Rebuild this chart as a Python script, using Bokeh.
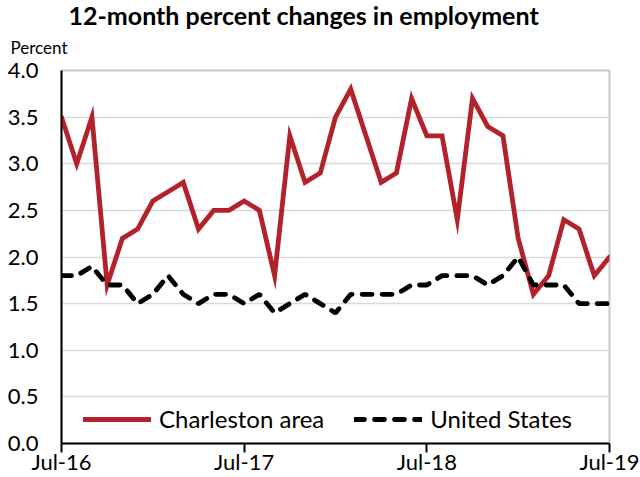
from bokeh.plotting import figure
from bokeh.models import Title, FixedTicker, PrintfTickFormatter, Range1d
from bokeh.embed import file_html
from bokeh.resources import INLINE

months = ["Jul-16", "Aug-16", "Sep-16", "Oct-16", "Nov-16", "Dec-16",
          "Jan-17", "Feb-17", "Mar-17", "Apr-17", "May-17", "Jun-17",
          "Jul-17", "Aug-17", "Sep-17", "Oct-17", "Nov-17", "Dec-17",
          "Jan-18", "Feb-18", "Mar-18", "Apr-18", "May-18", "Jun-18",
          "Jul-18", "Aug-18", "Sep-18", "Oct-18", "Nov-18", "Dec-18",
          "Jan-19", "Feb-19", "Mar-19", "Apr-19", "May-19", "Jun-19",
          "Jul-19"]

charleston = [3.5, 3.0, 3.5, 1.7, 2.2, 2.3, 2.6, 2.7, 2.8, 2.3, 2.5, 2.5,
              2.6, 2.5, 1.8, 3.3, 2.8, 2.9, 3.5, 3.8, 3.3, 2.8, 2.9, 3.7,
              3.3, 3.3, 2.4, 3.7, 3.4, 3.3, 2.2, 1.6, 1.8, 2.4, 2.3, 1.8,
              2.0]

united_states = [1.8, 1.8, 1.9, 1.7, 1.7, 1.5, 1.6, 1.8, 1.6, 1.5, 1.6, 1.6,
                 1.5, 1.6, 1.4, 1.5, 1.6, 1.5, 1.4, 1.6, 1.6, 1.6, 1.6, 1.7,
                 1.7, 1.8, 1.8, 1.8, 1.7, 1.8, 2.0, 1.7, 1.7, 1.7, 1.5, 1.5,
                 1.5]

tick_labels = ["Jul-16", "Jul-17", "Jul-18", "Jul-19"]
y_ticks = [0.0, 0.5, 1.0, 1.5, 2.0, 2.5, 3.0, 3.5, 4.0]

x = list(range(len(months)))
tick_pos = [months.index(t) for t in tick_labels]

FONT = "Lato"

p = figure(width=640, height=477, title=None,
           output_backend="svg", toolbar_location=None,
           x_range=Range1d(0, len(months) - 1), y_range=Range1d(0, 4),
           min_border_left=61, min_border_right=31, min_border_top=70,
           min_border_bottom=34)

p.background_fill_color = "white"
p.border_fill_color = "white"
p.outline_line_color = "#C8C8C8"
p.outline_line_width = 2

p.xgrid.grid_line_color = None
p.ygrid.grid_line_color = "#D9D9D9"
p.ygrid.grid_line_width = 1.5

p.yaxis.ticker = FixedTicker(ticks=y_ticks)
p.yaxis.formatter = PrintfTickFormatter(format="%.1f")
p.yaxis.major_tick_line_color = None
p.yaxis.minor_tick_line_color = None
p.yaxis.major_tick_out = 0
p.yaxis.major_tick_in = 0
p.yaxis.major_label_standoff = 23
p.yaxis.axis_line_color = "black"
p.yaxis.axis_line_width = 2

p.xaxis.ticker = FixedTicker(ticks=tick_pos)
p.xaxis.major_label_overrides = {pos: lab for pos, lab in zip(tick_pos, tick_labels)}
p.xaxis.minor_tick_line_color = None
p.xaxis.major_tick_out = 9
p.xaxis.major_tick_in = 0
p.xaxis.major_tick_line_width = 2
p.xaxis.major_tick_line_color = "black"
p.xaxis.major_label_standoff = -5
p.xaxis.axis_line_color = "black"
p.xaxis.axis_line_width = 2

for ax in (p.xaxis, p.yaxis):
    ax.major_label_text_font = FONT
    ax.major_label_text_font_size = "22px"
    ax.major_label_text_color = "black"

p.line(x, charleston, line_color="#B3222A", line_width=4.8,
       line_join="miter", line_cap="round", legend_label="Charleston area")
p.line(x, united_states, line_color="black", line_width=4.8,
       line_dash="10 10", line_cap="round", legend_label="United States")

leg = p.legend[0]
leg.orientation = "horizontal"
leg.location = (22, 10)
leg.padding = 0
leg.margin = 0
leg.spacing = 30
leg.glyph_width = 68
leg.label_standoff = 8
leg.label_text_font = FONT
leg.label_text_font_size = "24px"
leg.label_text_color = "black"
leg.background_fill_alpha = 0
leg.border_line_alpha = 0

ylab = Title(text="Percent", text_font=FONT, text_font_size="17px",
             text_font_style="normal", text_color="black",
             align="left", offset=-51, standoff=21, vertical_align="top")
p.add_layout(ylab, "above")

title = Title(text="12-month percent changes in employment",
              text_font=FONT, text_font_style="bold", text_font_size="25px",
              text_color="black", align="left", offset=7, standoff=-6)
p.add_layout(title, "above")

open("out.html", "w").write(file_html(p, INLINE))
